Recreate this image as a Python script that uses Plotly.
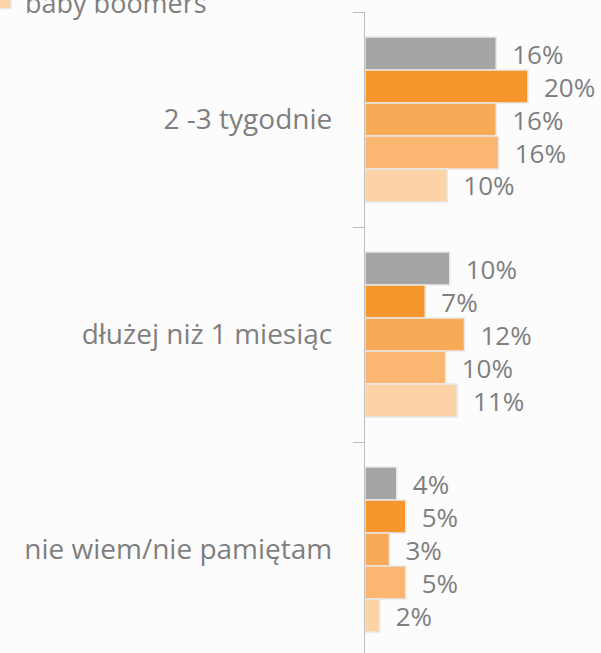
import plotly.graph_objects as go

categories = ["2 -3 tygodnie", "dłużej niż 1 miesiąc", "nie wiem/nie pamiętam"]
series_names = ["ogółem", "pokolenie Z", "pokolenie Y", "pokolenie X", "baby boomers"]
series_values = [
    [16.1, 10.4, 3.9],
    [20.0, 7.4, 5.0],
    [16.1, 12.2, 3.0],
    [16.4, 9.9, 5.0],
    [10.1, 11.3, 1.8],
]
colors = ["#a5a5a5", "#f7962d", "#f9aa57", "#fbb772", "#fcd3a6"]

FONT = "Open Sans"
TXT = "#7f7f7f"

fig = go.Figure()
for name, vals, col in zip(series_names, series_values, colors):
    fig.add_trace(go.Bar(
        y=categories, x=vals, name=name, orientation="h",
        marker=dict(color=col, line=dict(color="#e8e8e8", width=1.5)),
        texttemplate="\u2002%{x:.0f}%", textposition="outside",
        textfont=dict(family=FONT, size=26, color=TXT),
        constraintext="none", cliponaxis=False,
        showlegend=(name == "baby boomers"),
    ))

fig.update_layout(
    width=601, height=653,
    margin=dict(l=365, r=0, t=12, b=0, autoexpand=False),
    paper_bgcolor="#fcfcfc", plot_bgcolor="#fcfcfc",
    barmode="group", bargap=0.233, bargroupgap=0,
    font=dict(family=FONT, color=TXT),
    legend=dict(x=-1.61, xanchor="left", y=0.976, yanchor="bottom",
                font=dict(family=FONT, size=27, color=TXT),
                bgcolor="rgba(0,0,0,0)", borderwidth=0),
    xaxis=dict(range=[0, 28.96], visible=False),
    yaxis=dict(categoryorder="array", categoryarray=categories,
               range=[2.481, -0.5], showline=True, linecolor="#bfbfbf", linewidth=1.3,
               ticks="outside", tickson="boundaries", ticklen=11, tickcolor="#bfbfbf",
               tickwidth=1.3, ticklabelstandoff=26, showgrid=False,
               tickfont=dict(family=FONT, size=28, color=TXT)),
)

fig.write_html("out.html", config={"displayModeBar": False},
               post_script="document.body.style.margin='0';document.body.style.background='#fcfcfc';")
